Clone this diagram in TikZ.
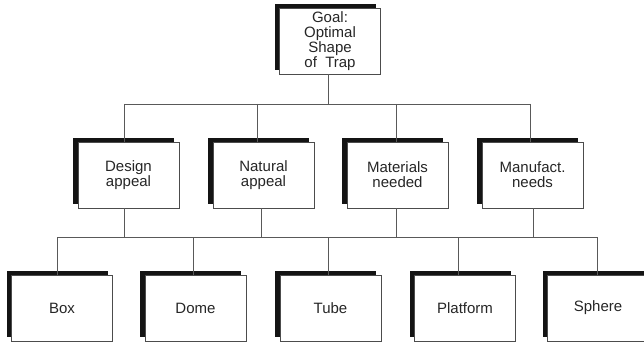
\documentclass[tikz,border=0pt]{standalone}
\usepackage{fontspec}
\setmainfont{Liberation Sans}
\usetikzlibrary{shadows}
\begin{document}
\begin{tikzpicture}[x=1pt,y=-1pt,
  card/.style={draw=black!70, line width=0.8pt, fill=white,
    minimum width=101pt, minimum height=66pt, inner sep=0pt,
    align=center, text=black!85, font=\fontsize{15}{15}\selectfont,
    general shadow={fill=black!92, shadow xshift=-5pt, shadow yshift=4pt}},
  link/.style={draw=black!65, line width=0.8pt}]
\path[use as bounding box, clip] (0,0) rectangle (644,342);

% goal
\node[card] (goal) at (330,41) {Goal:\\Optimal\\Shape\\of\ \ Trap};

% criteria
\node[card] (design)    at (128.5,175) {Design\\appeal};
\node[card] (natural)   at (263.5,175) {Natural\\appeal};
\node[card] (materials) at (397.5,175) {Materials\\needed};
\node[card] (manufact)  at (532.5,175) {Manufact.\\needs};

% alternatives
\node[card] (box)      at (62,308)  {Box};
\node[card] (dome)     at (195.5,308) {Dome};
\node[card] (tube)     at (330.5,308) {Tube};
\node[card] (platform) at (465,308) {Platform};
\node[card] (sphere)   at (598,308) {Sphere};

% upper bus junctions
\coordinate (b0) at (328,104);
\coordinate (b1) at (124,104);
\coordinate (b2) at (257,104);
\coordinate (b3) at (396,104);
\coordinate (b4) at (530,104);

% lower bus junctions (from criteria)
\coordinate (c1) at (124,237);
\coordinate (c2) at (261,237);
\coordinate (c3) at (396,237);
\coordinate (c4) at (533,237);

% lower bus junctions (to alternatives)
\coordinate (d1) at (57,237);
\coordinate (d2) at (193,237);
\coordinate (d3) at (328,237);
\coordinate (d4) at (458,237);
\coordinate (d5) at (597,237);

% upper tree
\draw[link] (b0 |- goal.south) -- (b0);
\draw[link] (b1) -- (b4);
\draw[link] (b1) -- (b1 |- design.north);
\draw[link] (b2) -- (b2 |- natural.north);
\draw[link] (b3) -- (b3 |- materials.north);
\draw[link] (b4) -- (b4 |- manufact.north);

% lower tree
\draw[link] (c1 |- design.south) -- (c1);
\draw[link] (c2 |- natural.south) -- (c2);
\draw[link] (c3 |- materials.south) -- (c3);
\draw[link] (c4 |- manufact.south) -- (c4);
\draw[link] (d1) -- (d5);
\draw[link] (d1) -- (d1 |- box.north);
\draw[link] (d2) -- (d2 |- dome.north);
\draw[link] (d3) -- (d3 |- tube.north);
\draw[link] (d4) -- (d4 |- platform.north);
\draw[link] (d5) -- (d5 |- sphere.north);
\end{tikzpicture}
\end{document}
